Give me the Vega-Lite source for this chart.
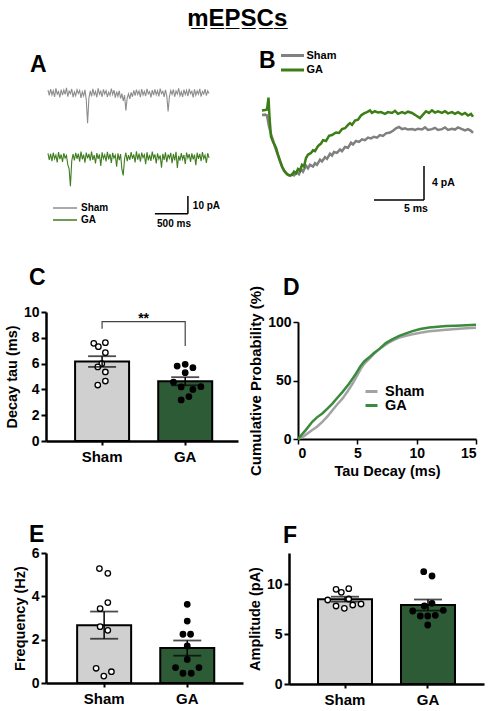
{
"$schema": "https://vega.github.io/schema/vega-lite/v6.json",
"padding": {"left": 4, "top": 7, "right": 5, "bottom": 5},
"title": {"text": "m̲E̲P̲S̲C̲s̲", "font": "Liberation Sans, DejaVu Sans", "fontSize": 24, "anchor": "middle", "dx": -7, "offset": 17},
"config": {
  "font": "Liberation Sans",
  "view": {"stroke": null},
  "axis": {"grid": false, "domainColor": "black", "tickColor": "black", "labelColor": "black", "titleColor": "black", "labelFontWeight": "bold", "titleFontWeight": "bold", "labelFontSize": 14, "titleFontSize": 14.5, "domainWidth": 2.5, "tickWidth": 2, "tickSize": 5, "labelPadding": 2, "titlePadding": 4, "labelOverlap": false},
  "title": {"font": "Liberation Sans", "fontWeight": "bold", "color": "black"},
  "text": {"font": "Liberation Sans"}
},
"bounds": "flush",
"columns": 2,
"spacing": {"row": 112, "column": 46},
"resolve": {"scale": {"x": "independent", "y": "independent", "color": "independent", "fill": "independent"}, "legend": {"color": "independent"}},
"datasets": {
"traceA": [
{"t":30,"Sham":-5.2,"GA":-40.9},{"t":50,"Sham":-8.1,"GA":-44.6},{"t":70,"Sham":-4.6,"GA":-41.2},{"t":90,"Sham":-7.9,"GA":-45.3},{"t":110,"Sham":-5.5,"GA":-40.5},{"t":130,"Sham":-9.0,"GA":-43.9},{"t":150,"Sham":-4.2,"GA":-41.8},{"t":170,"Sham":-7.4,"GA":-46.0},{"t":190,"Sham":-6.0,"GA":-40.2},{"t":210,"Sham":-9.3,"GA":-44.1},
{"t":230,"Sham":-4.8,"GA":-41.5},{"t":250,"Sham":-8.0,"GA":-45.7},{"t":270,"Sham":-5.1,"GA":-40.8},{"t":290,"Sham":-7.6,"GA":-43.6},{"t":310,"Sham":-3.9,"GA":-42.0},{"t":330,"Sham":-8.8,"GA":-47.2},{"t":350,"Sham":-5.7,"GA":-49.5},{"t":370,"Sham":-7.2,"GA":-59.4},{"t":390,"Sham":-4.5,"GA":-45.1},{"t":410,"Sham":-9.1,"GA":-41.3},
{"t":430,"Sham":-6.2,"GA":-44.8},{"t":450,"Sham":-8.3,"GA":-40.6},{"t":470,"Sham":-4.9,"GA":-43.9},{"t":490,"Sham":-7.0,"GA":-41.0},{"t":510,"Sham":-5.3,"GA":-45.5},{"t":530,"Sham":-9.5,"GA":-39.9},{"t":550,"Sham":-6.1,"GA":-44.2},{"t":570,"Sham":-8.4,"GA":-41.6},{"t":590,"Sham":-5.0,"GA":-46.1},{"t":610,"Sham":-10.5,"GA":-40.4},
{"t":630,"Sham":-23.9,"GA":-43.7},{"t":650,"Sham":-9.8,"GA":-41.1},{"t":670,"Sham":-5.6,"GA":-45.0},{"t":690,"Sham":-8.7,"GA":-39.8},{"t":710,"Sham":-4.4,"GA":-44.5},{"t":730,"Sham":-7.8,"GA":-41.9},{"t":750,"Sham":-5.9,"GA":-46.6},{"t":770,"Sham":-9.2,"GA":-40.7},{"t":790,"Sham":-4.1,"GA":-44.0},{"t":810,"Sham":-7.5,"GA":-41.4},
{"t":830,"Sham":-5.8,"GA":-47.9},{"t":850,"Sham":-8.9,"GA":-40.3},{"t":870,"Sham":-4.7,"GA":-43.8},{"t":890,"Sham":-7.3,"GA":-41.7},{"t":910,"Sham":-5.4,"GA":-45.4},{"t":930,"Sham":-9.0,"GA":-40.0},{"t":950,"Sham":-6.3,"GA":-44.3},{"t":970,"Sham":-8.1,"GA":-41.2},{"t":990,"Sham":-4.3,"GA":-46.3},{"t":1010,"Sham":-7.7,"GA":-40.6},
{"t":1030,"Sham":-5.2,"GA":-43.5},{"t":1050,"Sham":-9.4,"GA":-41.9},{"t":1070,"Sham":-6.0,"GA":-48.4},{"t":1090,"Sham":-8.6,"GA":-40.9},{"t":1110,"Sham":-5.5,"GA":-44.7},{"t":1130,"Sham":-9.9,"GA":-41.3},{"t":1150,"Sham":-7.1,"GA":-49.8},{"t":1170,"Sham":-11.2,"GA":-53.3},{"t":1190,"Sham":-8.0,"GA":-44.0},{"t":1210,"Sham":-16.7,"GA":-40.5},
{"t":1230,"Sham":-9.6,"GA":-45.2},{"t":1250,"Sham":-7.2,"GA":-41.8},{"t":1270,"Sham":-10.1,"GA":-44.6},{"t":1290,"Sham":-6.4,"GA":-40.1},{"t":1310,"Sham":-8.9,"GA":-43.9},{"t":1330,"Sham":-5.3,"GA":-41.5},{"t":1350,"Sham":-8.2,"GA":-46.0},{"t":1370,"Sham":-4.9,"GA":-39.7},{"t":1390,"Sham":-7.6,"GA":-44.4},{"t":1410,"Sham":-5.6,"GA":-41.0},
{"t":1430,"Sham":-9.1,"GA":-45.6},{"t":1450,"Sham":-4.6,"GA":-40.4},{"t":1470,"Sham":-7.9,"GA":-43.3},{"t":1490,"Sham":-5.8,"GA":-41.6},{"t":1510,"Sham":-8.5,"GA":-47.0},{"t":1530,"Sham":-4.4,"GA":-40.2},{"t":1550,"Sham":-7.3,"GA":-44.8},{"t":1570,"Sham":-6.0,"GA":-41.7},{"t":1590,"Sham":-9.2,"GA":-45.1},{"t":1610,"Sham":-5.1,"GA":-39.9},
{"t":1630,"Sham":-8.0,"GA":-43.6},{"t":1650,"Sham":-4.7,"GA":-41.4},{"t":1670,"Sham":-7.8,"GA":-46.5},{"t":1690,"Sham":-5.5,"GA":-40.8},{"t":1710,"Sham":-8.7,"GA":-44.1},{"t":1730,"Sham":-4.3,"GA":-42.0},{"t":1750,"Sham":-7.1,"GA":-48.9},{"t":1770,"Sham":-5.9,"GA":-41.1},{"t":1790,"Sham":-9.0,"GA":-44.6},{"t":1810,"Sham":-5.0,"GA":-40.3},
{"t":1830,"Sham":-8.4,"GA":-45.8},{"t":1850,"Sham":-17.2,"GA":-41.5},{"t":1870,"Sham":-8.8,"GA":-43.7},{"t":1890,"Sham":-5.4,"GA":-40.6},{"t":1910,"Sham":-7.6,"GA":-46.4},{"t":1930,"Sham":-4.8,"GA":-41.2},{"t":1950,"Sham":-8.9,"GA":-44.9},{"t":1970,"Sham":-5.7,"GA":-40.0},{"t":1990,"Sham":-7.4,"GA":-49.1},{"t":2010,"Sham":-4.2,"GA":-42.3},
{"t":2030,"Sham":-8.3,"GA":-45.0},{"t":2050,"Sham":-6.1,"GA":-40.7},{"t":2070,"Sham":-9.0,"GA":-44.2},{"t":2090,"Sham":-4.9,"GA":-41.8},{"t":2110,"Sham":-7.7,"GA":-46.9},{"t":2130,"Sham":-5.3,"GA":-40.4},{"t":2150,"Sham":-8.6,"GA":-43.5},{"t":2170,"Sham":-4.5,"GA":-41.3},{"t":2190,"Sham":-7.2,"GA":-45.7},{"t":2210,"Sham":-5.8,"GA":-40.9},
{"t":2230,"Sham":-9.3,"GA":-44.3},{"t":2250,"Sham":-4.7,"GA":-41.6},{"t":2270,"Sham":-8.1,"GA":-47.5},{"t":2290,"Sham":-5.6,"GA":-40.5},{"t":2310,"Sham":-7.5,"GA":-44.0},{"t":2330,"Sham":-4.4,"GA":-41.1},{"t":2350,"Sham":-8.8,"GA":-45.3},{"t":2370,"Sham":-5.9,"GA":-40.2},{"t":2390,"Sham":-7.3,"GA":-43.8},{"t":2410,"Sham":-4.6,"GA":-41.9},
{"t":2430,"Sham":-8.2,"GA":-46.2},{"t":2450,"Sham":-5.5,"GA":-40.8},{"t":2470,"Sham":-7.0,"GA":-43.4}
],
"traceB": [
{"g":"Sham","t":0.0,"v":-0.25},{"g":"Sham","t":0.3,"v":-0.2},{"g":"Sham","t":0.5,"v":-0.3},{"g":"Sham","t":0.7,"v":-1.6},{"g":"Sham","t":0.9,"v":-2.5},{"g":"Sham","t":1.1,"v":-3.2},{"g":"Sham","t":1.3,"v":-4.0},{"g":"Sham","t":1.6,"v":-5.0},{"g":"Sham","t":1.8,"v":-5.7},{"g":"Sham","t":2.0,"v":-6.3},
{"g":"Sham","t":2.3,"v":-6.9},{"g":"Sham","t":2.6,"v":-7.3},{"g":"Sham","t":2.8,"v":-7.4},{"g":"Sham","t":3.0,"v":-7.2},{"g":"Sham","t":3.2,"v":-7.35},{"g":"Sham","t":3.5,"v":-7.0},{"g":"Sham","t":3.7,"v":-7.2},{"g":"Sham","t":3.9,"v":-6.6},{"g":"Sham","t":4.1,"v":-6.9},{"g":"Sham","t":4.4,"v":-6.2},
{"g":"Sham","t":4.6,"v":-6.5},{"g":"Sham","t":4.8,"v":-6.1},{"g":"Sham","t":5.1,"v":-6.3},{"g":"Sham","t":5.3,"v":-5.9},{"g":"Sham","t":5.5,"v":-6.1},{"g":"Sham","t":5.8,"v":-5.5},{"g":"Sham","t":6.0,"v":-5.7},{"g":"Sham","t":6.3,"v":-5.2},{"g":"Sham","t":6.5,"v":-5.4},{"g":"Sham","t":6.8,"v":-4.8},
{"g":"Sham","t":7.0,"v":-5.0},{"g":"Sham","t":7.2,"v":-4.6},{"g":"Sham","t":7.5,"v":-4.7},{"g":"Sham","t":7.8,"v":-4.3},{"g":"Sham","t":8.0,"v":-4.5},{"g":"Sham","t":8.3,"v":-4.0},{"g":"Sham","t":8.6,"v":-4.1},{"g":"Sham","t":8.9,"v":-3.5},{"g":"Sham","t":9.1,"v":-3.7},{"g":"Sham","t":9.4,"v":-3.3},
{"g":"Sham","t":9.7,"v":-3.4},{"g":"Sham","t":10.0,"v":-3.1},{"g":"Sham","t":10.3,"v":-3.2},{"g":"Sham","t":10.6,"v":-2.9},{"g":"Sham","t":10.9,"v":-3.0},{"g":"Sham","t":11.2,"v":-2.8},{"g":"Sham","t":11.5,"v":-2.9},{"g":"Sham","t":11.8,"v":-2.6},{"g":"Sham","t":12.1,"v":-2.7},{"g":"Sham","t":12.4,"v":-2.4},
{"g":"Sham","t":12.8,"v":-2.3},{"g":"Sham","t":13.1,"v":-2.1},{"g":"Sham","t":13.4,"v":-1.8},{"g":"Sham","t":13.7,"v":-1.65},{"g":"Sham","t":14.0,"v":-1.9},{"g":"Sham","t":14.3,"v":-1.8},{"g":"Sham","t":14.6,"v":-1.95},{"g":"Sham","t":15.0,"v":-1.9},{"g":"Sham","t":15.3,"v":-2.0},{"g":"Sham","t":15.6,"v":-1.85},
{"g":"Sham","t":16.0,"v":-1.95},{"g":"Sham","t":16.3,"v":-1.7},{"g":"Sham","t":16.6,"v":-2.0},{"g":"Sham","t":17.0,"v":-1.9},{"g":"Sham","t":17.3,"v":-1.75},{"g":"Sham","t":17.6,"v":-2.0},{"g":"Sham","t":18.0,"v":-1.9},{"g":"Sham","t":18.3,"v":-1.7},{"g":"Sham","t":18.6,"v":-2.0},{"g":"Sham","t":19.0,"v":-1.85},
{"g":"Sham","t":19.3,"v":-1.95},{"g":"Sham","t":19.6,"v":-1.7},{"g":"Sham","t":20.0,"v":-1.9},{"g":"Sham","t":20.3,"v":-2.05},{"g":"Sham","t":20.6,"v":-1.9},{"g":"Sham","t":20.9,"v":-2.1},{"g":"Sham","t":21.1,"v":-2.35},
{"g":"GA","t":0.0,"v":0.3},{"g":"GA","t":0.3,"v":0.35},{"g":"GA","t":0.5,"v":0.4},{"g":"GA","t":0.65,"v":1.8},{"g":"GA","t":0.75,"v":-0.5},{"g":"GA","t":0.9,"v":-2.8},{"g":"GA","t":1.1,"v":-3.4},{"g":"GA","t":1.4,"v":-4.1},{"g":"GA","t":1.6,"v":-4.9},{"g":"GA","t":1.8,"v":-5.6},
{"g":"GA","t":2.0,"v":-6.3},{"g":"GA","t":2.2,"v":-6.8},{"g":"GA","t":2.5,"v":-7.2},{"g":"GA","t":2.8,"v":-7.35},{"g":"GA","t":3.0,"v":-7.3},{"g":"GA","t":3.2,"v":-6.9},{"g":"GA","t":3.4,"v":-7.1},{"g":"GA","t":3.6,"v":-6.6},{"g":"GA","t":3.8,"v":-6.8},{"g":"GA","t":4.0,"v":-6.1},
{"g":"GA","t":4.2,"v":-6.3},{"g":"GA","t":4.4,"v":-5.3},{"g":"GA","t":4.6,"v":-4.9},{"g":"GA","t":4.9,"v":-4.7},{"g":"GA","t":5.1,"v":-4.4},{"g":"GA","t":5.3,"v":-4.5},{"g":"GA","t":5.6,"v":-3.9},{"g":"GA","t":5.9,"v":-3.6},{"g":"GA","t":6.1,"v":-3.2},{"g":"GA","t":6.4,"v":-3.3},
{"g":"GA","t":6.7,"v":-2.7},{"g":"GA","t":7.0,"v":-2.6},{"g":"GA","t":7.4,"v":-2.3},{"g":"GA","t":7.7,"v":-2.35},{"g":"GA","t":8.0,"v":-1.9},{"g":"GA","t":8.3,"v":-1.8},{"g":"GA","t":8.6,"v":-1.4},{"g":"GA","t":8.8,"v":-1.2},{"g":"GA","t":9.0,"v":-1.4},{"g":"GA","t":9.3,"v":-0.9},
{"g":"GA","t":9.6,"v":-0.8},{"g":"GA","t":9.9,"v":-0.3},{"g":"GA","t":10.2,"v":-0.05},{"g":"GA","t":10.5,"v":0.1},{"g":"GA","t":10.8,"v":0.3},{"g":"GA","t":11.0,"v":0.0},{"g":"GA","t":11.3,"v":0.2},{"g":"GA","t":11.6,"v":0.05},{"g":"GA","t":11.9,"v":0.1},{"g":"GA","t":12.3,"v":-0.1},
{"g":"GA","t":12.6,"v":0.1},{"g":"GA","t":13.0,"v":0.0},{"g":"GA","t":13.3,"v":0.25},{"g":"GA","t":13.6,"v":-0.1},{"g":"GA","t":14.0,"v":0.1},{"g":"GA","t":14.3,"v":-0.05},{"g":"GA","t":14.6,"v":0.15},{"g":"GA","t":15.0,"v":0.0},{"g":"GA","t":15.4,"v":-0.3},{"g":"GA","t":15.8,"v":-0.6},
{"g":"GA","t":16.1,"v":-0.2},{"g":"GA","t":16.4,"v":0.2},{"g":"GA","t":16.7,"v":0.0},{"g":"GA","t":17.0,"v":0.3},{"g":"GA","t":17.3,"v":0.05},{"g":"GA","t":17.6,"v":0.2},{"g":"GA","t":18.0,"v":0.0},{"g":"GA","t":18.3,"v":0.2},{"g":"GA","t":18.6,"v":-0.05},{"g":"GA","t":19.0,"v":0.1},
{"g":"GA","t":19.3,"v":-0.1},{"g":"GA","t":19.6,"v":0.1},{"g":"GA","t":20.0,"v":-0.2},{"g":"GA","t":20.3,"v":0.0},{"g":"GA","t":20.6,"v":-0.3},{"g":"GA","t":20.9,"v":-0.1},{"g":"GA","t":21.1,"v":-0.45}
],
"cdf": [
{"g":"Sham","x":0,"p":0},{"g":"Sham","x":0.5,"p":2.5},{"g":"Sham","x":1.2,"p":7.6},{"g":"Sham","x":1.6,"p":10.5},{"g":"Sham","x":2.05,"p":14.7},{"g":"Sham","x":2.5,"p":19.5},{"g":"Sham","x":2.9,"p":24.6},{"g":"Sham","x":3.3,"p":29.5},{"g":"Sham","x":3.74,"p":34.5},{"g":"Sham","x":4.2,"p":41},
{"g":"Sham","x":4.59,"p":47.2},{"g":"Sham","x":5.0,"p":54.5},{"g":"Sham","x":5.29,"p":59.9},{"g":"Sham","x":5.6,"p":64.5},{"g":"Sham","x":6.0,"p":68.4},{"g":"Sham","x":6.4,"p":72.8},{"g":"Sham","x":6.84,"p":76.8},{"g":"Sham","x":7.25,"p":79.8},{"g":"Sham","x":7.68,"p":82.5},{"g":"Sham","x":8.1,"p":84.8},
{"g":"Sham","x":8.53,"p":86.7},{"g":"Sham","x":9.1,"p":88.3},{"g":"Sham","x":9.65,"p":89.5},{"g":"Sham","x":10.3,"p":90.8},{"g":"Sham","x":11.06,"p":92.0},{"g":"Sham","x":11.8,"p":92.8},{"g":"Sham","x":12.47,"p":93.4},{"g":"Sham","x":13.3,"p":94.0},{"g":"Sham","x":14.2,"p":94.6},{"g":"Sham","x":15,"p":95.0},
{"g":"GA","x":0,"p":0},{"g":"GA","x":0.3,"p":3.5},{"g":"GA","x":0.65,"p":7.6},{"g":"GA","x":1.2,"p":14.7},{"g":"GA","x":1.6,"p":18.5},{"g":"GA","x":2.05,"p":21.8},{"g":"GA","x":2.5,"p":26.2},{"g":"GA","x":2.9,"p":30.2},{"g":"GA","x":3.3,"p":35},{"g":"GA","x":3.74,"p":40.1},
{"g":"GA","x":4.3,"p":47.2},{"g":"GA","x":4.87,"p":55.6},{"g":"GA","x":5.29,"p":62.7},{"g":"GA","x":5.6,"p":66.5},{"g":"GA","x":6.0,"p":69.8},{"g":"GA","x":6.4,"p":73.5},{"g":"GA","x":6.84,"p":76.8},{"g":"GA","x":7.4,"p":82.0},{"g":"GA","x":7.9,"p":85.0},{"g":"GA","x":8.53,"p":88.1},
{"g":"GA","x":9.1,"p":90.3},{"g":"GA","x":9.65,"p":92.2},{"g":"GA","x":10.3,"p":94.0},{"g":"GA","x":11.06,"p":95.3},{"g":"GA","x":11.8,"p":96.0},{"g":"GA","x":12.5,"p":96.5},{"g":"GA","x":13.3,"p":96.9},{"g":"GA","x":14.2,"p":97.3},{"g":"GA","x":15,"p":97.6}
],
"tau": [
{"group":"Sham","value":7.57,"jitter":-8.3},{"group":"Sham","value":7.31,"jitter":-3.7},{"group":"Sham","value":7.62,"jitter":3.3},{"group":"Sham","value":6.85,"jitter":3.3},{"group":"Sham","value":5.99,"jitter":-0.3},{"group":"Sham","value":5.74,"jitter":-4.3},{"group":"Sham","value":5.35,"jitter":3.3},{"group":"Sham","value":4.65,"jitter":3.3},{"group":"Sham","value":4.34,"jitter":-4.3},
{"group":"GA","value":5.81,"jitter":-8},{"group":"GA","value":5.94,"jitter":0},{"group":"GA","value":5.68,"jitter":7.7},{"group":"GA","value":5.30,"jitter":0},{"group":"GA","value":4.57,"jitter":-11.7},{"group":"GA","value":4.19,"jitter":-4},{"group":"GA","value":4.0,"jitter":7.7},{"group":"GA","value":4.21,"jitter":15.7},{"group":"GA","value":3.44,"jitter":3.7},{"group":"GA","value":3.18,"jitter":-4}
],
"freq": [
{"group":"Sham","value":5.28,"jitter":-4.7},{"group":"Sham","value":5.06,"jitter":3.7},{"group":"Sham","value":3.71,"jitter":3.7},{"group":"Sham","value":3.43,"jitter":-4},{"group":"Sham","value":2.60,"jitter":-4},{"group":"Sham","value":2.43,"jitter":3.7},{"group":"Sham","value":0.68,"jitter":-8},{"group":"Sham","value":0.52,"jitter":7.3},{"group":"Sham","value":0.32,"jitter":-0.3},
{"group":"GA","value":3.63,"jitter":0},{"group":"GA","value":2.86,"jitter":0},{"group":"GA","value":2.25,"jitter":-4.3},{"group":"GA","value":2.25,"jitter":3.3},{"group":"GA","value":1.71,"jitter":0},{"group":"GA","value":1.09,"jitter":0},{"group":"GA","value":0.71,"jitter":-11.7},{"group":"GA","value":0.71,"jitter":11.7},{"group":"GA","value":0.45,"jitter":-4.3},{"group":"GA","value":0.45,"jitter":4}
],
"amp": [
{"group":"Sham","value":9.47,"jitter":-9},{"group":"Sham","value":9.17,"jitter":-3.7},{"group":"Sham","value":9.53,"jitter":3.7},{"group":"Sham","value":8.4,"jitter":-17.3},{"group":"Sham","value":8.5,"jitter":3.7},{"group":"Sham","value":7.8,"jitter":-9},{"group":"Sham","value":7.57,"jitter":-0.7},{"group":"Sham","value":7.9,"jitter":7.7},{"group":"Sham","value":8.0,"jitter":16},
{"group":"GA","value":11.23,"jitter":-4.3},{"group":"GA","value":10.8,"jitter":4},{"group":"GA","value":7.8,"jitter":-3.7},{"group":"GA","value":8.07,"jitter":4},{"group":"GA","value":7.3,"jitter":-15.3},{"group":"GA","value":7.37,"jitter":15.3},{"group":"GA","value":6.8,"jitter":-7.7},{"group":"GA","value":6.8,"jitter":-0.3},{"group":"GA","value":6.87,"jitter":7.3},{"group":"GA","value":5.9,"jitter":-0.3}
]
},
"concat": [
{
 "width": 175, "height": 119,
 "title": {"text": "A", "anchor": "start", "frame": "group", "fontSize": 23, "dx": -16, "offset": 4},
 "layer": [
  {"data": {"name": "traceA"}, "transform": [{"fold": ["Sham", "GA"], "as": ["group", "pA"]}],
   "mark": {"type": "line", "strokeWidth": 1.1},
   "encoding": {
     "x": {"field": "t", "type": "quantitative", "scale": {"domain": [0, 2651.5], "nice": false}, "axis": null},
     "y": {"field": "pA", "type": "quantitative", "scale": {"domain": [-67.2, 0], "nice": false, "zero": false}, "axis": null},
     "color": {"field": "group", "type": "nominal", "scale": {"domain": ["Sham", "GA"], "range": ["#8d8d8d", "#3f7d20"]},
       "legend": {"orient": "none", "legendX": 12, "legendY": 120, "direction": "vertical", "title": null, "symbolType": "M-2,0H2", "symbolSize": 144, "symbolStrokeWidth": 1.5, "labelFontSize": 10, "labelFontWeight": "bold", "labelColor": "black", "rowPadding": -2, "labelOffset": 9, "padding": 0}}
   }},
  {"data": {"values": [{"t": 1650, "t2": 2150, "y": -75, "y2": -75}, {"t": 2150, "t2": 2150, "y": -65, "y2": -75}]},
   "mark": {"type": "rule", "color": "black", "strokeWidth": 1.5},
   "encoding": {"x": {"field": "t", "type": "quantitative"}, "x2": {"field": "t2"}, "y": {"field": "y", "type": "quantitative"}, "y2": {"field": "y2"}}},
  {"data": {"values": [{"t": 2225, "y": -70.6, "label": "10 pA"}]},
   "mark": {"type": "text", "align": "left", "baseline": "middle", "fontSize": 10, "fontWeight": "bold", "color": "black"},
   "encoding": {"x": {"field": "t", "type": "quantitative"}, "y": {"field": "y", "type": "quantitative"}, "text": {"field": "label"}}},
  {"data": {"values": [{"t": 1939, "y": -80.8, "label": "500 ms"}]},
   "mark": {"type": "text", "align": "center", "baseline": "middle", "fontSize": 10, "fontWeight": "bold", "color": "black"},
   "encoding": {"x": {"field": "t", "type": "quantitative"}, "y": {"field": "y", "type": "quantitative"}, "text": {"field": "label"}}}
 ]
},
{
 "width": 195, "height": 119,
 "title": {"text": "B", "anchor": "start", "frame": "group", "fontSize": 23, "dx": -30, "offset": -25},
 "layer": [
  {"data": {"name": "traceB"}, "transform": [{"filter": "datum.g === 'Sham'"}],
   "mark": {"type": "line", "strokeWidth": 2.5},
   "encoding": {
     "x": {"field": "t", "type": "quantitative", "scale": {"domain": [0, 21.2], "range": [-27, 185], "nice": false}, "axis": null},
     "y": {"field": "v", "type": "quantitative", "scale": {"domain": [-10.24, 3.76], "nice": false, "zero": false}, "axis": null},
     "color": {"datum": "Sham", "type": "nominal", "scale": {"domain": ["Sham", "GA"], "range": ["#808080", "#3c7d16"]},
       "legend": {"orient": "none", "legendX": -4, "legendY": -33, "direction": "vertical", "title": null, "symbolType": "M-2,0H2", "symbolSize": 132, "symbolStrokeWidth": 3, "labelFontSize": 11, "labelFontWeight": "bold", "labelColor": "black", "rowPadding": 0.5, "labelOffset": 6.5, "padding": 0}}
   }},
  {"data": {"name": "traceB"}, "transform": [{"filter": "datum.g === 'GA'"}],
   "mark": {"type": "line", "strokeWidth": 2.5},
   "encoding": {
     "x": {"field": "t", "type": "quantitative"},
     "y": {"field": "v", "type": "quantitative"},
     "color": {"datum": "GA", "type": "nominal"}
   }},
  {"data": {"values": [{"t": 11.2, "t2": 16.2, "v": -10.24, "v2": -10.24}, {"t": 16.2, "t2": 16.2, "v": -6.24, "v2": -10.24}]},
   "mark": {"type": "rule", "color": "black", "strokeWidth": 1.5},
   "encoding": {"x": {"field": "t", "type": "quantitative"}, "x2": {"field": "t2"}, "y": {"field": "v", "type": "quantitative"}, "y2": {"field": "v2"}}},
  {"data": {"values": [{"t": 17.0, "v": -8.2, "label": "4 pA"}]},
   "mark": {"type": "text", "align": "left", "baseline": "middle", "fontSize": 10.5, "fontWeight": "bold", "color": "black"},
   "encoding": {"x": {"field": "t", "type": "quantitative"}, "y": {"field": "v", "type": "quantitative"}, "text": {"field": "label"}}},
  {"data": {"values": [{"t": 15.4, "v": -11.3, "label": "5 ms"}]},
   "mark": {"type": "text", "align": "center", "baseline": "middle", "fontSize": 10.5, "fontWeight": "bold", "color": "black"},
   "encoding": {"x": {"field": "t", "type": "quantitative"}, "y": {"field": "v", "type": "quantitative"}, "text": {"field": "label"}}}
 ]
},
{
 "width": 192, "height": 129,
 "title": {"text": "C", "anchor": "start", "frame": "group", "fontSize": 23, "dx": -17, "offset": 15},
 "data": {"name": "tau"},
 "layer": [
  {"mark": {"type": "bar", "stroke": "black", "strokeWidth": 2, "width": 54},
   "encoding": {
     "x": {"field": "group", "type": "nominal", "title": null, "scale": {"domain": ["Sham", "GA"], "paddingInner": 0.35, "paddingOuter": 0.33, "align": 0.53}, "axis": {"labelAngle": 0, "labelFontSize": 15, "tickSize": 4, "labelPadding": 4}},
     "y": {"aggregate": "mean", "field": "value", "type": "quantitative", "title": "Decay tau (ms)", "scale": {"domain": [0, 10], "nice": false}, "axis": {"values": [0, 2, 4, 6, 8, 10], "labelOverlap": false, "tickCount": 6}},
     "color": {"field": "group", "type": "nominal", "scale": {"domain": ["Sham", "GA"], "range": ["#d0d0d0", "#2d5b36"]}, "legend": null}
   }},
  {"mark": {"type": "point", "shape": "circle", "filled": true, "stroke": "black", "strokeWidth": 1.3, "size": 30, "opacity": 1},
   "encoding": {
     "x": {"field": "group", "type": "nominal", "title": null},
     "xOffset": {"field": "jitter", "type": "quantitative", "scale": {"domain": [-27, 27], "range": [0, 54]}},
     "y": {"field": "value", "type": "quantitative", "title": "Decay tau (ms)", "axis": {"values": [0, 2, 4, 6, 8, 10], "labelOverlap": false, "tickCount": 6}},
     "fill": {"field": "group", "type": "nominal", "scale": {"domain": ["Sham", "GA"], "range": ["white", "black"]}, "legend": null}
   }},
  {"mark": {"type": "errorbar", "extent": "stderr", "color": "black", "ticks": {"size": 28, "thickness": 1.8, "color": "black"}, "rule": {"strokeWidth": 1.5}},
   "encoding": {"x": {"field": "group", "type": "nominal", "title": null}, "y": {"field": "value", "type": "quantitative", "title": "Decay tau (ms)", "axis": {"values": [0, 2, 4, 6, 8, 10], "labelOverlap": false, "tickCount": 6}}}},
  {"data": {"values": [{"group": "Sham", "value": 8.7, "o": 1}, {"group": "Sham", "value": 9.25, "o": 2}, {"group": "GA", "value": 9.25, "o": 3}, {"group": "GA", "value": 7.36, "o": 4}]},
   "mark": {"type": "line", "color": "#444444", "strokeWidth": 1.2},
   "encoding": {"x": {"field": "group", "type": "nominal", "title": null}, "y": {"field": "value", "type": "quantitative", "title": "Decay tau (ms)", "axis": {"values": [0, 2, 4, 6, 8, 10], "labelOverlap": false, "tickCount": 6}}, "order": {"field": "o", "type": "quantitative"}}},
  {"data": {"values": [{"group": "Sham", "value": 9.15, "label": "**"}]},
   "mark": {"type": "text", "dx": 41.5, "fontSize": 14, "fontWeight": "bold", "baseline": "alphabetic", "color": "black"},
   "encoding": {"x": {"field": "group", "type": "nominal", "title": null}, "y": {"field": "value", "type": "quantitative", "title": "Decay tau (ms)", "axis": {"values": [0, 2, 4, 6, 8, 10], "labelOverlap": false, "tickCount": 6}}, "text": {"field": "label"}}}
 ]
},
{
 "width": 190, "height": 127,
 "title": {"text": "D", "anchor": "start", "frame": "group", "fontSize": 23, "dx": -6, "offset": -15},
 "layer": [
  {"data": {"name": "cdf"}, "transform": [{"filter": "datum.g === 'Sham'"}],
   "mark": {"type": "line", "strokeWidth": 2.5},
   "encoding": {
     "x": {"field": "x", "type": "quantitative", "title": "Tau Decay (ms)", "scale": {"domain": [0, 15], "range": [9, 187], "nice": false}, "axis": {"values": [0, 2.5, 5, 7.5, 10, 12.5, 15], "labelExpr": "datum.value % 5 === 0 ? datum.label : ''", "domainWidth": 2, "tickWidth": 1.5, "tickSize": 5}},
     "y": {"field": "p", "type": "quantitative", "title": "Cumulative Probability (%)", "scale": {"domain": [0, 100], "range": [127, 10], "nice": false}, "axis": {"values": [0, 25, 50, 75, 100], "labelExpr": "datum.value % 50 === 0 ? datum.label : ''", "offset": -9, "domainWidth": 2, "tickWidth": 1.5, "titleFontSize": 15}},
     "color": {"datum": "Sham", "type": "nominal", "scale": {"domain": ["Sham", "GA"], "range": ["#a3a3a3", "#3a8b3c"]},
       "legend": {"orient": "none", "legendX": 75, "legendY": 72, "direction": "vertical", "title": null, "symbolType": "stroke", "symbolSize": 144, "symbolStrokeWidth": 3, "labelFontSize": 14.5, "labelFontWeight": "bold", "labelColor": "black", "rowPadding": -2, "labelOffset": 6, "padding": 0}}
   }},
  {"data": {"name": "cdf"}, "transform": [{"filter": "datum.g === 'GA'"}],
   "mark": {"type": "line", "strokeWidth": 2.5},
   "encoding": {
     "x": {"field": "x", "type": "quantitative", "title": "Tau Decay (ms)"},
     "y": {"field": "p", "type": "quantitative", "title": "Cumulative Probability (%)"},
     "color": {"datum": "GA", "type": "nominal"}
   }}
 ]
},
{
 "width": 197, "height": 130,
 "title": {"text": "E", "anchor": "start", "frame": "group", "fontSize": 23, "dx": -17, "offset": -1},
 "data": {"name": "freq"},
 "layer": [
  {"mark": {"type": "bar", "stroke": "black", "strokeWidth": 2, "width": 54},
   "encoding": {
     "x": {"field": "group", "type": "nominal", "title": null, "scale": {"domain": ["Sham", "GA"], "paddingInner": 0.35, "paddingOuter": 0.36, "align": 0.52}, "axis": {"labelAngle": 0, "labelFontSize": 15, "tickSize": 4, "labelPadding": 4}},
     "y": {"aggregate": "mean", "field": "value", "type": "quantitative", "title": "Frequency (Hz)", "scale": {"domain": [0, 6], "nice": false}, "axis": {"values": [0, 2, 4, 6], "labelOverlap": false}},
     "color": {"field": "group", "type": "nominal", "scale": {"domain": ["Sham", "GA"], "range": ["#d0d0d0", "#2d5b36"]}, "legend": null}
   }},
  {"mark": {"type": "point", "shape": "circle", "filled": true, "stroke": "black", "strokeWidth": 1.3, "size": 30, "opacity": 1},
   "encoding": {
     "x": {"field": "group", "type": "nominal", "title": null},
     "xOffset": {"field": "jitter", "type": "quantitative", "scale": {"domain": [-27, 27], "range": [0, 54]}},
     "y": {"field": "value", "type": "quantitative", "title": "Frequency (Hz)"},
     "fill": {"field": "group", "type": "nominal", "scale": {"domain": ["Sham", "GA"], "range": ["white", "black"]}, "legend": null}
   }},
  {"mark": {"type": "errorbar", "extent": "stderr", "color": "black", "ticks": {"size": 28, "thickness": 1.8, "color": "black"}, "rule": {"strokeWidth": 1.5}},
   "encoding": {"x": {"field": "group", "type": "nominal", "title": null}, "y": {"field": "value", "type": "quantitative", "title": "Frequency (Hz)"}}}
 ]
},
{
 "width": 195, "height": 131,
 "title": {"text": "F", "anchor": "start", "frame": "group", "fontSize": 23, "dx": -6, "offset": 5},
 "data": {"name": "amp"},
 "layer": [
  {"mark": {"type": "bar", "stroke": "black", "strokeWidth": 2, "width": 54},
   "encoding": {
     "x": {"field": "group", "type": "nominal", "title": null, "scale": {"domain": ["Sham", "GA"], "paddingInner": 0.35, "paddingOuter": 0.35, "align": 0.5}, "axis": {"labelAngle": 0, "labelFontSize": 15, "tickSize": 4, "labelPadding": 4}},
     "y": {"aggregate": "mean", "field": "value", "type": "quantitative", "title": "Amplitude (pA)", "scale": {"domain": [0, 13.1], "nice": false}, "axis": {"values": [0, 5, 10], "labelOverlap": false}},
     "color": {"field": "group", "type": "nominal", "scale": {"domain": ["Sham", "GA"], "range": ["#d0d0d0", "#2d5b36"]}, "legend": null}
   }},
  {"mark": {"type": "point", "shape": "circle", "filled": true, "stroke": "black", "strokeWidth": 1.3, "size": 30, "opacity": 1},
   "encoding": {
     "x": {"field": "group", "type": "nominal", "title": null},
     "xOffset": {"field": "jitter", "type": "quantitative", "scale": {"domain": [-27, 27], "range": [0, 54]}},
     "y": {"field": "value", "type": "quantitative", "title": "Amplitude (pA)"},
     "fill": {"field": "group", "type": "nominal", "scale": {"domain": ["Sham", "GA"], "range": ["white", "black"]}, "legend": null}
   }},
  {"mark": {"type": "errorbar", "extent": "stderr", "color": "black", "ticks": {"size": 28, "thickness": 1.8, "color": "black"}, "rule": {"strokeWidth": 1.5}},
   "encoding": {"x": {"field": "group", "type": "nominal", "title": null}, "y": {"field": "value", "type": "quantitative", "title": "Amplitude (pA)"}}}
 ]
}
]
}
